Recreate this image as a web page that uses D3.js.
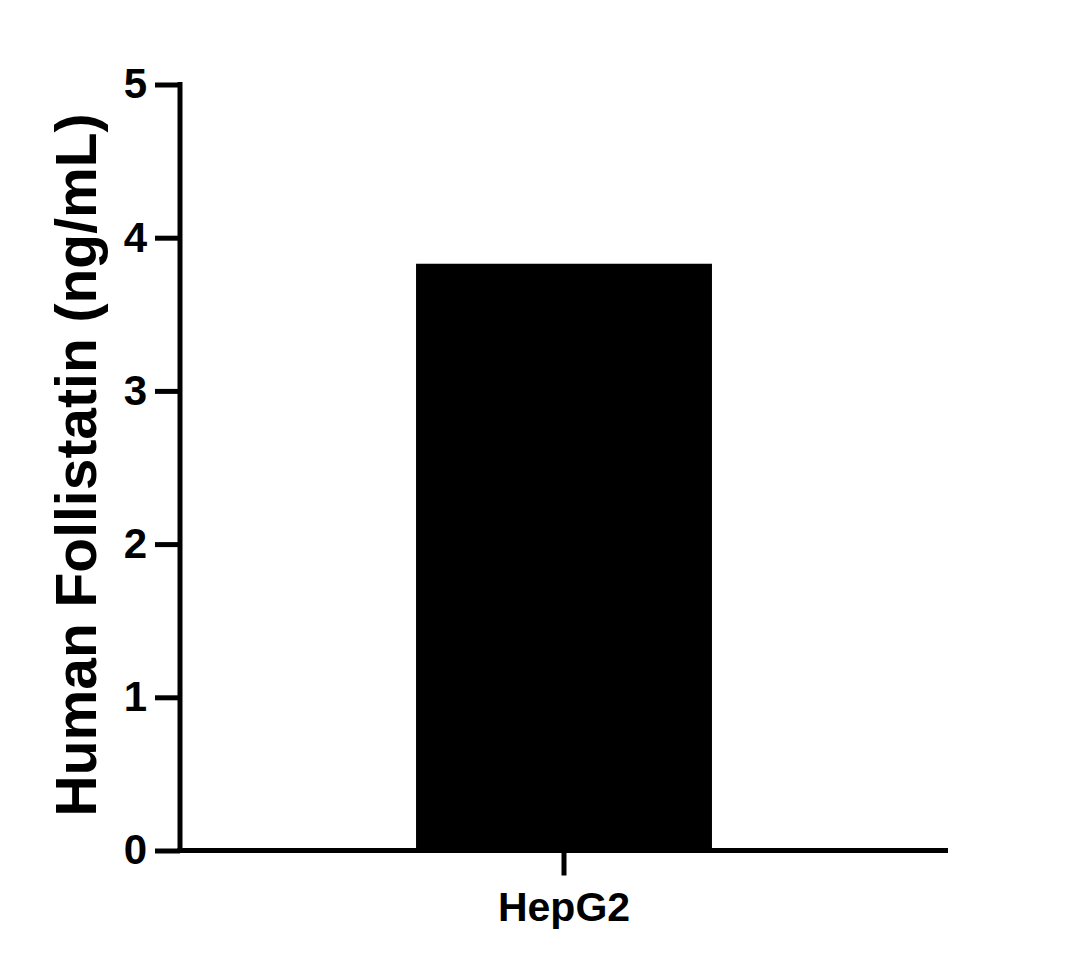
<!DOCTYPE html>
<html lang="en">
    <head>
        <meta charset="utf-8">
        <title>Human Follistatin</title>
        <script src="https://d3js.org/d3.v7.min.js"></script>
        <style type="text/css">
        body { margin: 0; background: #fff; }
        text { font-family: "Liberation Sans", Arial, sans-serif; font-weight: bold; fill: #000; }
        .tick text { font-size: 42px; }
        .ytitle { font-size: 57px; }
        .domain, .tick line { stroke: #000; stroke-width: 5; }
        .bars { fill: #000; }
        </style>
    </head>
    <body>
    <div id="vis"></div>
    <script type="text/javascript">

        // data
        const cellLines = ["HepG2"];
        const follistatin = [3.83];
        const yTicks = [0, 1, 2, 3, 4, 5];

        const width = 1086;
        const height = 968;
        const plotLeft = 180, plotRight = 948, plotTop = 84.5, plotBottom = 850.5;

        const xScale = d3.scaleBand()
                         .domain(cellLines)
                         .range([plotLeft, plotRight])
                         .padding(0.4437);

        const yScale = d3.scaleLinear()
                         .domain([0, 5])
                         .range([plotBottom, plotTop]);

        const svg = d3.select("#vis")
                      .append("svg")
                      .attr("width", width)
                      .attr("height", height);

        // bars first so the axis sits on top
        svg.selectAll(".bars")
           .data(cellLines)
           .enter()
           .append("rect")
           .attr("class", "bars")
           .attr("x", d => xScale(d))
           .attr("y", (d, i) => yScale(follistatin[i]))
           .attr("width", xScale.bandwidth())
           .attr("height", (d, i) => plotBottom - yScale(follistatin[i]));

        const leftAxis = d3.axisLeft(yScale)
                           .tickValues(yTicks)
                           .tickFormat(d3.format("d"))
                           .tickSize(25)
                           .tickSizeOuter(0)
                           .tickPadding(8);

        const ya = svg.append("g")
           .attr("transform", "translate(" + plotLeft + ",0)")
           .call(leftAxis);
        ya.select(".domain").attr("d", "M0," + (plotTop - 2.5) + "V" + (plotBottom + 2.5));

        const bottomAxis = d3.axisBottom(xScale)
                             .tickSize(25)
                             .tickSizeOuter(0)
                             .tickPadding(16);

        const xa = svg.append("g")
           .attr("transform", "translate(0," + plotBottom + ")")
           .call(bottomAxis);
        xa.select(".domain").attr("d", "M" + (plotLeft - 2.5) + ",0H" + plotRight);
        xa.selectAll(".tick text").style("font-size", "41px");

        svg.append("text")
           .attr("class", "ytitle")
           .attr("x", -465)
           .attr("y", 96)
           .attr("text-anchor", "middle")
           .attr("transform", "rotate(-90)")
           .text("Human Follistatin (ng/mL)");

    </script>
    </body>
</html>
